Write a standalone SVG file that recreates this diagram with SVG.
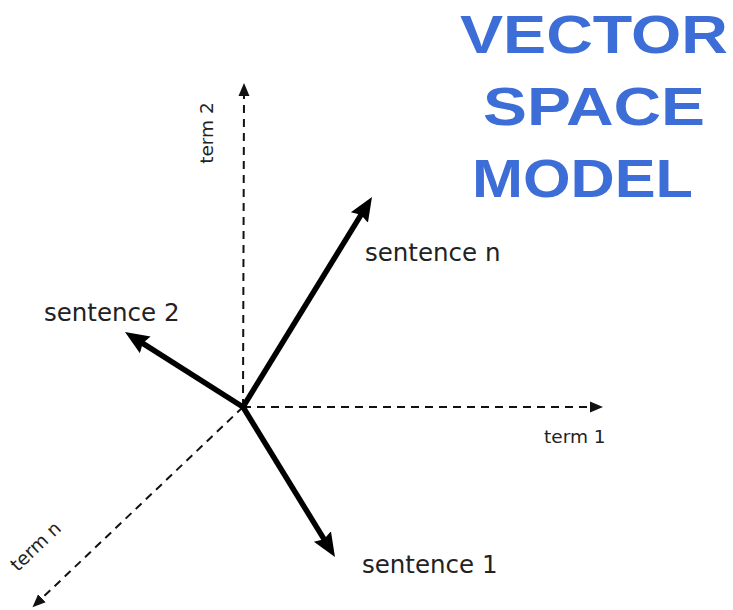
<svg xmlns="http://www.w3.org/2000/svg" width="733" height="610" viewBox="0 0 733 610">
<style>
.axis{stroke:#111;stroke-width:2;stroke-dasharray:8 6;fill:none}
.vec{stroke:#000;stroke-width:5.5;fill:none}
.lbl{font-family:"DejaVu Sans","Liberation Sans",sans-serif;font-size:24.5px;fill:#222}
.ax{font-family:"DejaVu Sans","Liberation Sans",sans-serif;font-size:18.5px;fill:#222}
.title{font-family:"Liberation Sans","DejaVu Sans",sans-serif;font-weight:bold;font-size:54px;fill:#3d6dd6}
</style>
<defs>
<marker id="big" markerUnits="userSpaceOnUse" viewBox="0 -11 26 22" markerWidth="26" markerHeight="22" refX="8" refY="0" orient="auto">
<path d="M0,-10 L24,0 L0,10 L3,0 z" fill="#000"/>
</marker>
<marker id="small" markerUnits="userSpaceOnUse" viewBox="0 -7 14 14" markerWidth="14" markerHeight="14" refX="4" refY="0" orient="auto">
<path d="M0,-5.5 L13,0 L0,5.5 z" fill="#111"/>
</marker>
</defs>
<rect width="733" height="610" fill="#fff"/>
<g id="title">
<text class="title" x="460" y="53" textLength="268" lengthAdjust="spacingAndGlyphs">VECTOR</text>
<text class="title" x="483" y="125" textLength="222" lengthAdjust="spacingAndGlyphs">SPACE</text>
<text class="title" x="472" y="197" textLength="221" lengthAdjust="spacingAndGlyphs">MODEL</text>
</g>
<g id="connectors">
<line id="axis-term2" class="axis" x1="243" y1="407" x2="244" y2="92" marker-end="url(#small)"/>
<line id="axis-term1" class="axis" x1="243" y1="407" x2="594" y2="407" marker-end="url(#small)"/>
<line id="axis-termn" class="axis" x1="243" y1="407" x2="39" y2="601" marker-end="url(#small)"/>
<line id="vec-sn" class="vec" x1="243" y1="407" x2="363.6" y2="210.6" marker-end="url(#big)"/>
<line id="vec-s2" class="vec" x1="243" y1="407" x2="138.5" y2="340.6" marker-end="url(#big)"/>
<line id="vec-s1" class="vec" x1="243" y1="407" x2="326.6" y2="543.4" marker-end="url(#big)"/>
</g>
<g id="term2"><text class="ax" transform="translate(213,133) rotate(-90)" text-anchor="middle">term 2</text></g>
<g id="term1"><text class="ax" x="544" y="443">term 1</text></g>
<g id="termn"><text class="ax" transform="translate(40,551) rotate(-43.6)" text-anchor="middle">term n</text></g>
<g id="sentence-n"><text class="lbl" x="365" y="261">sentence n</text></g>
<g id="sentence-2"><text class="lbl" x="44" y="321">sentence 2</text></g>
<g id="sentence-1"><text class="lbl" x="362" y="573">sentence 1</text></g>
</svg>
